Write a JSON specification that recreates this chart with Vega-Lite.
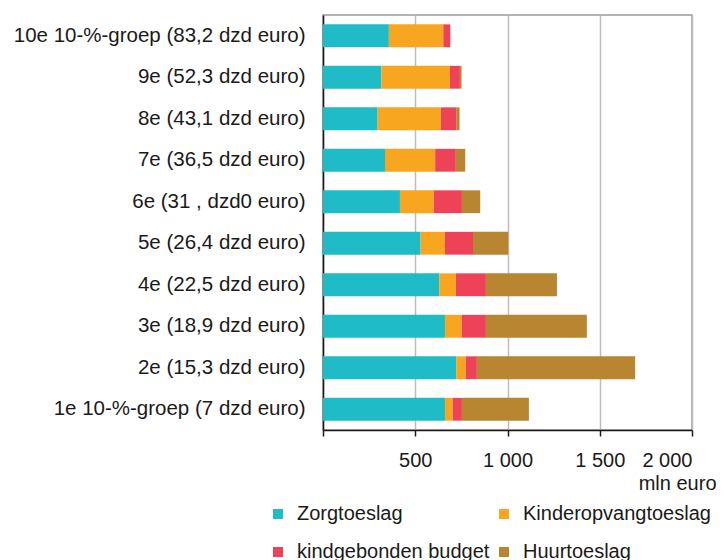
{
  "$schema": "https://vega.github.io/schema/vega-lite/v6.json",
  "autosize": "none",
  "width": 369,
  "height": 415,
  "padding": {"left": 323, "top": 15, "right": 34, "bottom": 130},
  "background": "white",
  "config": {
    "font": "Liberation Sans",
    "view": {"stroke": "#9a9a9a", "strokeWidth": 1.5}
  },
  "data": {
    "values": [
      {"groep": "10e 10-%-groep (83,2 dzd euro)", "regeling": "Zorgtoeslag", "mln": 357},
      {"groep": "10e 10-%-groep (83,2 dzd euro)", "regeling": "Kinderopvangtoeslag", "mln": 295},
      {"groep": "10e 10-%-groep (83,2 dzd euro)", "regeling": "kindgebonden budget", "mln": 38},
      {"groep": "10e 10-%-groep (83,2 dzd euro)", "regeling": "Huurtoeslag", "mln": 0},
      {"groep": "9e (52,3 dzd euro)", "regeling": "Zorgtoeslag", "mln": 316},
      {"groep": "9e (52,3 dzd euro)", "regeling": "Kinderopvangtoeslag", "mln": 372},
      {"groep": "9e (52,3 dzd euro)", "regeling": "kindgebonden budget", "mln": 54},
      {"groep": "9e (52,3 dzd euro)", "regeling": "Huurtoeslag", "mln": 9},
      {"groep": "8e (43,1 dzd euro)", "regeling": "Zorgtoeslag", "mln": 296},
      {"groep": "8e (43,1 dzd euro)", "regeling": "Kinderopvangtoeslag", "mln": 343},
      {"groep": "8e (43,1 dzd euro)", "regeling": "kindgebonden budget", "mln": 83},
      {"groep": "8e (43,1 dzd euro)", "regeling": "Huurtoeslag", "mln": 18},
      {"groep": "7e (36,5 dzd euro)", "regeling": "Zorgtoeslag", "mln": 336},
      {"groep": "7e (36,5 dzd euro)", "regeling": "Kinderopvangtoeslag", "mln": 272},
      {"groep": "7e (36,5 dzd euro)", "regeling": "kindgebonden budget", "mln": 112},
      {"groep": "7e (36,5 dzd euro)", "regeling": "Huurtoeslag", "mln": 51},
      {"groep": "6e (31 , dzd0 euro)", "regeling": "Zorgtoeslag", "mln": 417},
      {"groep": "6e (31 , dzd0 euro)", "regeling": "Kinderopvangtoeslag", "mln": 183},
      {"groep": "6e (31 , dzd0 euro)", "regeling": "kindgebonden budget", "mln": 153},
      {"groep": "6e (31 , dzd0 euro)", "regeling": "Huurtoeslag", "mln": 99},
      {"groep": "5e (26,4 dzd euro)", "regeling": "Zorgtoeslag", "mln": 529},
      {"groep": "5e (26,4 dzd euro)", "regeling": "Kinderopvangtoeslag", "mln": 132},
      {"groep": "5e (26,4 dzd euro)", "regeling": "kindgebonden budget", "mln": 152},
      {"groep": "5e (26,4 dzd euro)", "regeling": "Huurtoeslag", "mln": 191},
      {"groep": "4e (22,5 dzd euro)", "regeling": "Zorgtoeslag", "mln": 630},
      {"groep": "4e (22,5 dzd euro)", "regeling": "Kinderopvangtoeslag", "mln": 90},
      {"groep": "4e (22,5 dzd euro)", "regeling": "kindgebonden budget", "mln": 163},
      {"groep": "4e (22,5 dzd euro)", "regeling": "Huurtoeslag", "mln": 385},
      {"groep": "3e (18,9 dzd euro)", "regeling": "Zorgtoeslag", "mln": 661},
      {"groep": "3e (18,9 dzd euro)", "regeling": "Kinderopvangtoeslag", "mln": 90},
      {"groep": "3e (18,9 dzd euro)", "regeling": "kindgebonden budget", "mln": 132},
      {"groep": "3e (18,9 dzd euro)", "regeling": "Huurtoeslag", "mln": 547},
      {"groep": "2e (15,3 dzd euro)", "regeling": "Zorgtoeslag", "mln": 722},
      {"groep": "2e (15,3 dzd euro)", "regeling": "Kinderopvangtoeslag", "mln": 51},
      {"groep": "2e (15,3 dzd euro)", "regeling": "kindgebonden budget", "mln": 61},
      {"groep": "2e (15,3 dzd euro)", "regeling": "Huurtoeslag", "mln": 858},
      {"groep": "1e 10-%-groep (7 dzd euro)", "regeling": "Zorgtoeslag", "mln": 661},
      {"groep": "1e 10-%-groep (7 dzd euro)", "regeling": "Kinderopvangtoeslag", "mln": 42},
      {"groep": "1e 10-%-groep (7 dzd euro)", "regeling": "kindgebonden budget", "mln": 50},
      {"groep": "1e 10-%-groep (7 dzd euro)", "regeling": "Huurtoeslag", "mln": 363}
    ]
  },
  "transform": [
    {"window": [{"op": "row_number", "as": "volgorde"}], "groupby": ["groep"]}
  ],
  "mark": {"type": "bar"},
  "encoding": {
    "y": {
      "field": "groep",
      "type": "nominal",
      "sort": null,
      "scale": {"paddingInner": 0.45, "paddingOuter": 0.225},
      "axis": {
        "title": null,
        "ticks": false,
        "labelFontSize": 20.5,
        "labelColor": "#1a1a1a",
        "labelPadding": 18,
        "labelLimit": 400,
        "domainColor": "#1a1a1a",
        "domainWidth": 1.5,
        "grid": false
      }
    },
    "x": {
      "field": "mln",
      "type": "quantitative",
      "stack": "zero",
      "scale": {"domain": [0, 2000], "nice": false},
      "axis": {
        "values": [0, 500, 1000, 1500, 2000],
        "labelExpr": "datum.value == 0 ? '' : replace(format(datum.value, ','), ',', ' ')",
        "labelFontSize": 20,
        "labelColor": "#1a1a1a",
        "labelPadding": 14,
        "tickSize": 6,
        "tickColor": "#1a1a1a",
        "tickWidth": 1.5,
        "domainColor": "#1a1a1a",
        "domainWidth": 1.5,
        "grid": true,
        "gridColor": "#bdbdbd",
        "gridWidth": 1.5,
        "title": "mln euro",
        "titleFontSize": 20,
        "titleFontWeight": "normal",
        "titleColor": "#1a1a1a",
        "titleAnchor": "end",
        "titleAlign": "right",
        "titleBaseline": "middle",
        "titleX": 393,
        "titleY": 53
      }
    },
    "order": {"field": "volgorde", "type": "quantitative"},
    "color": {
      "field": "regeling",
      "type": "nominal",
      "scale": {
        "domain": ["Zorgtoeslag", "kindgebonden budget", "Kinderopvangtoeslag", "Huurtoeslag"],
        "range": ["#1fbbc6", "#ee4258", "#f8a61f", "#b88531"]
      },
      "legend": {
        "orient": "none",
        "legendX": -55,
        "legendY": 489,
        "title": null,
        "columns": 2,
        "columnPadding": 4,
        "rowPadding": 18,
        "symbolType": "square",
        "symbolSize": 100,
        "symbolStrokeWidth": 0,
        "labelFontSize": 20,
        "labelColor": "#1a1a1a",
        "labelOffset": 9,
        "labelLimit": 400,
        "labelExpr": "datum.label == 'Zorgtoeslag' ? ' Zorgtoeslag' : datum.label"
      }
    }
  }
}
